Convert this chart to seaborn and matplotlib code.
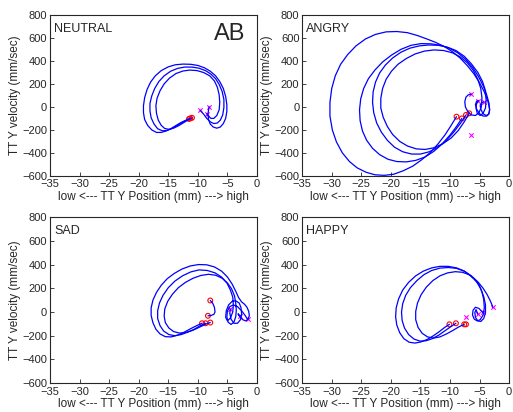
import matplotlib
matplotlib.use('Agg')
import matplotlib.pyplot as plt
import seaborn as sns
import pandas as pd

# ---- data ----
panel_names = ['NEUTRAL', 'ANGRY', 'SAD', 'HAPPY']
x_ticks = [-35, -30, -25, -20, -15, -10, -5, 0]
y_ticks = [-600, -400, -200, 0, 200, 400, 600, 800]

# NEUTRAL
neu_x1 = [-11.5, -12.2, -13.0, -13.8, -14.6, -15.4, -16.2, -17.0, -17.8, -18.5, -19.0, -19.2, -19.2, -19.0, -18.6, -18.0, -17.2, -16.2, -15.0, -13.8, -12.5, -11.2, -10.0, -8.9, -7.9, -7.0, -6.3, -5.7, -5.3, -5.1, -5.1, -5.3, -5.7, -6.2, -6.8, -7.4, -7.9, -8.2, -8.3, -8.1]
neu_y1 = [-105, -120, -140, -165, -190, -210, -222, -222, -200, -160, -110, -50, 10, 80, 150, 215, 270, 315, 348, 366, 372, 370, 360, 340, 310, 270, 220, 160, 90, 20, -40, -100, -145, -175, -185, -175, -150, -110, -60, 0]
neu_x2 = [-11.3, -12.0, -12.8, -13.6, -14.4, -15.2, -16.0, -16.8, -17.4, -17.9, -18.1, -18.1, -17.8, -17.3, -16.6, -15.7, -14.6, -13.4, -12.2, -11.0, -9.8, -8.7, -7.8, -7.0, -6.4, -5.9, -5.6, -5.6, -5.8, -6.2, -6.7, -7.3, -7.9, -8.5, -9.0, -9.6]
neu_y2 = [-100, -118, -140, -165, -188, -205, -208, -190, -150, -95, -35, 30, 95, 160, 220, 270, 310, 335, 346, 346, 336, 315, 285, 245, 195, 135, 65, -5, -70, -115, -140, -145, -130, -100, -65, -30]
neu_x3 = [-11.0, -11.7, -12.5, -13.3, -14.1, -14.9, -15.6, -16.2, -16.7, -17.0, -17.1, -16.9, -16.4, -15.7, -14.8, -13.7, -12.5, -11.3, -10.1, -9.0, -8.0, -7.2, -6.7, -6.4, -6.3, -6.4, -6.8, -7.3, -7.8, -8.2, -8.5]
neu_y3 = [-95, -115, -140, -165, -185, -195, -188, -160, -115, -55, 10, 75, 140, 200, 250, 290, 312, 320, 315, 298, 270, 225, 170, 105, 40, -25, -75, -100, -100, -80, -60]
neu_start_x = [-11.5, -11.3, -11.0]
neu_start_y = [-105, -100, -95]
neu_end_x = [-8.1, -9.6, -8.5]
neu_end_y = [0, -30, -60]

# ANGRY
ang_x1 = [-8.9, -9.8, -10.8, -12.0, -13.3, -14.8, -16.3, -17.9, -19.5, -21.1, -22.7, -24.2, -25.7, -27.0, -28.2, -29.2, -29.9, -30.3, -30.3, -30.0, -29.4, -28.5, -27.3, -25.9, -24.3, -22.6, -20.8, -19.0, -17.2, -15.5, -13.9, -12.4, -11.0, -9.6, -8.3, -7.1, -6.0, -5.0, -4.2, -3.6, -3.3, -3.4, -3.8, -4.4, -5.0, -5.5, -5.7, -5.5, -5.2]
ang_y1 = [-85, -160, -240, -320, -395, -460, -515, -555, -585, -595, -590, -568, -530, -475, -400, -305, -200, -80, 40, 160, 270, 370, 455, 530, 590, 630, 652, 655, 645, 620, 590, 560, 525, 480, 425, 360, 290, 210, 130, 50, -20, -60, -80, -80, -60, -20, 20, 50, 54]
ang_x2 = [-8.0, -8.9, -10.0, -11.3, -12.7, -14.2, -15.8, -17.4, -19.0, -20.5, -21.9, -23.1, -24.1, -24.8, -25.2, -25.3, -25.1, -24.6, -23.8, -22.7, -21.4, -19.9, -18.3, -16.6, -14.9, -13.2, -11.6, -10.1, -8.7, -7.4, -6.2, -5.2, -4.4, -3.8, -3.4, -3.3, -3.5, -3.9, -4.4, -4.8, -4.9, -4.6, -4.3]
ang_y2 = [-100, -170, -245, -320, -385, -435, -465, -478, -475, -455, -415, -360, -290, -210, -120, -25, 70, 160, 245, 320, 390, 450, 500, 535, 550, 548, 535, 510, 470, 415, 345, 265, 185, 105, 30, -30, -65, -75, -60, -20, 15, 35, 45]
ang_x3 = [-7.3, -8.2, -9.3, -10.6, -12.0, -13.5, -15.0, -16.5, -18.0, -19.4, -20.6, -21.6, -22.4, -22.9, -23.1, -23.0, -22.6, -21.9, -20.9, -19.7, -18.3, -16.8, -15.2, -13.6, -12.0, -10.5, -9.0, -7.6, -6.4, -5.3, -4.5, -4.0, -3.9, -4.0, -4.4, -4.9, -5.4, -5.6, -5.5, -5.2]
ang_y3 = [-70, -140, -215, -290, -350, -390, -410, -410, -390, -350, -290, -220, -140, -50, 40, 130, 215, 295, 365, 425, 475, 510, 530, 538, 535, 520, 490, 440, 375, 300, 220, 140, 60, -10, -55, -75, -55, -10, 30, 54]
ang_x4 = [-6.75, -7.6, -8.6, -9.8, -11.2, -12.7, -14.2, -15.7, -17.2, -18.5, -19.7, -20.6, -21.3, -21.7, -21.7, -21.4, -20.8, -19.9, -18.8, -17.4, -15.9, -14.3, -12.7, -11.1, -9.6, -8.3, -7.1, -6.1, -5.3, -4.8, -4.6, -4.7, -5.1, -5.7, -6.4, -7.0, -7.4, -7.5, -7.3, -6.9, -6.4]
ang_y4 = [-56, -130, -205, -270, -320, -355, -370, -365, -340, -300, -240, -170, -90, -10, 75, 160, 240, 310, 370, 420, 460, 485, 495, 490, 470, 435, 385, 320, 240, 160, 80, 0, -50, -75, -70, -40, 0, 45, 85, 105, 111]
ang_start_x = [-8.9, -8.0, -7.3, -6.75]
ang_start_y = [-85, -100, -70, -56]
ang_end_x = [-5.2, -4.3, -6.4, -6.5]
ang_end_y = [54, 45, 111, -244]

# SAD
sad_x1 = [-9.3, -10.2, -11.2, -12.3, -13.4, -14.5, -15.5, -16.4, -17.1, -17.6, -17.9, -17.9, -17.6, -17.0, -16.2, -15.2, -14.0, -12.7, -11.3, -9.9, -8.5, -7.2, -6.0, -5.0, -4.2, -3.6, -3.1, -2.6, -2.1, -1.7, -1.4, -1.3, -1.5, -1.9, -2.4, -2.9, -3.2, -3.1, -2.8]
sad_y1 = [-95, -115, -140, -170, -195, -210, -208, -185, -145, -90, -30, 35, 100, 165, 225, 280, 325, 362, 388, 400, 398, 380, 345, 295, 235, 175, 120, 85, 65, 40, 5, -30, -60, -75, -65, -40, -15, -25, -32]
sad_x2 = [-8.7, -9.6, -10.6, -11.7, -12.8, -13.9, -14.9, -15.8, -16.4, -16.8, -16.8, -16.5, -15.9, -15.0, -13.9, -12.6, -11.2, -9.8, -8.4, -7.1, -6.0, -5.1, -4.5, -4.1, -4.0, -4.1, -4.5, -5.0, -5.3, -5.2, -4.8, -4.2, -3.6, -3.0, -2.7, -2.6, -2.8, -3.3, -3.9, -4.4, -4.6, -4.5]
sad_y2 = [-95, -115, -145, -170, -190, -200, -190, -160, -115, -55, 10, 75, 140, 205, 260, 305, 338, 355, 350, 330, 295, 245, 185, 125, 60, 0, -50, -75, -45, 10, 60, 90, 95, 75, 35, -15, -65, -95, -95, -60, -10, 25]
sad_x3 = [-7.9, -8.8, -9.8, -10.9, -12.0, -13.1, -14.1, -14.9, -15.5, -15.7, -15.6, -15.1, -14.3, -13.3, -12.1, -10.8, -9.5, -8.2, -7.0, -5.9, -5.0, -4.3, -3.8, -3.6, -3.5, -3.6, -3.9, -4.4, -4.9, -5.1, -5.0, -4.6, -4.0, -3.3, -2.6, -2.0, -1.6]
sad_y3 = [-89, -105, -130, -155, -172, -178, -165, -135, -90, -35, 25, 90, 150, 205, 250, 285, 308, 318, 310, 285, 245, 195, 135, 75, 15, -40, -85, -105, -85, -40, 10, 45, 60, 45, 10, -30, -61]
sad_x4 = [-7.9, -7.5, -7.2, -7.1, -7.3, -7.8, -8.3]
sad_y4 = [97, 75, 40, 0, -20, -30, -32]
sad_start_x = [-9.3, -8.7, -7.9, -7.9, -8.3]
sad_start_y = [-95, -95, -89, 97, -32]
sad_end_x = [-2.8, -4.5, -1.6]
sad_end_y = [-32, 25, -61]

# HAPPY
hap_x1 = [-10.1, -10.9, -11.8, -12.8, -13.8, -14.9, -15.9, -16.9, -17.8, -18.5, -19.0, -19.2, -19.1, -18.7, -18.0, -17.0, -15.8, -14.5, -13.1, -11.7, -10.3, -8.9, -7.6, -6.4, -5.3, -4.4, -3.7, -3.2, -2.9, -2.8]
hap_y1 = [-104, -130, -165, -200, -230, -252, -262, -255, -225, -175, -110, -40, 35, 110, 185, 250, 305, 345, 372, 385, 385, 372, 345, 305, 255, 200, 145, 95, 60, 40]
hap_x2 = [-9.0, -9.9, -10.9, -11.9, -13.0, -14.1, -15.1, -16.1, -17.0, -17.7, -18.1, -18.2, -18.0, -17.5, -16.7, -15.6, -14.4, -13.1, -11.7, -10.3, -8.9, -7.6, -6.5, -5.5, -4.8, -4.3, -4.0, -4.0, -4.3, -4.8, -5.3, -5.7, -5.8, -5.6, -5.3]
hap_y2 = [-95, -125, -160, -195, -225, -243, -245, -228, -190, -135, -70, 0, 70, 140, 205, 265, 315, 350, 370, 375, 368, 345, 305, 255, 195, 130, 60, -5, -55, -80, -75, -45, -5, 20, -18]
hap_x3 = [-7.6, -8.5, -9.5, -10.6, -11.7, -12.8, -13.8, -14.7, -15.4, -15.8, -15.8, -15.5, -14.9, -14.0, -12.9, -11.7, -10.4, -9.1, -7.9, -6.8, -5.9, -5.1, -4.6, -4.3, -4.2, -4.4, -4.9, -5.4, -5.9, -6.2, -6.1, -5.7, -5.1, -4.5]
hap_y3 = [-104, -125, -155, -185, -210, -220, -210, -180, -130, -65, 5, 75, 145, 210, 265, 305, 330, 340, 335, 315, 280, 230, 170, 105, 35, -25, -65, -75, -60, -25, 15, 40, 30, -3]
hap_start_x = [-10.1, -9.0, -7.6, -7.3]
hap_start_y = [-104, -95, -104, -104]
hap_end_x = [-2.8, -5.3, -4.5, -7.3]
hap_end_y = [40, -18, -3, -38]

panels = [
    ([(neu_x1, neu_y1), (neu_x2, neu_y2), (neu_x3, neu_y3)], neu_start_x, neu_start_y, neu_end_x, neu_end_y),
    ([(ang_x1, ang_y1), (ang_x2, ang_y2), (ang_x3, ang_y3), (ang_x4, ang_y4)], ang_start_x, ang_start_y, ang_end_x, ang_end_y),
    ([(sad_x1, sad_y1), (sad_x2, sad_y2), (sad_x3, sad_y3), (sad_x4, sad_y4)], sad_start_x, sad_start_y, sad_end_x, sad_end_y),
    ([(hap_x1, hap_y1), (hap_x2, hap_y2), (hap_x3, hap_y3)], hap_start_x, hap_start_y, hap_end_x, hap_end_y),
]

sns.set_style('ticks')
plt.rcParams['font.family'] = ['Liberation Sans', 'DejaVu Sans']
plt.rcParams['xtick.direction'] = 'in'
plt.rcParams['ytick.direction'] = 'in'

fig = plt.figure(figsize=(5.13, 4.12), dpi=100)
# axes positions (left, bottom, width, height)
positions = [
    [0.0975, 0.573, 0.4035, 0.391],
    [0.589, 0.573, 0.4035, 0.391],
    [0.0975, 0.070, 0.4035, 0.403],
    [0.589, 0.070, 0.4035, 0.403],
]

for i, (loops, sx, sy, ex, ey) in enumerate(panels):
    ax = fig.add_axes(positions[i])
    for lx, ly in loops:
        df = pd.DataFrame({'pos': lx, 'vel': ly})
        sns.lineplot(data=df, x='pos', y='vel', sort=False, estimator=None,
                     color='#0000ff', lw=0.9, ax=ax)
    sns.scatterplot(x=sx, y=sy, marker='o', s=12, facecolor='none',
                    edgecolor='red', linewidth=0.8, ax=ax)
    sns.scatterplot(x=ex, y=ey, marker='x', s=10, color='magenta',
                    linewidth=0.8, ax=ax)
    ax.set_xlim(-35, 0)
    ax.set_ylim(-600, 800)
    ax.set_xticks(x_ticks)
    ax.set_yticks(y_ticks)
    ax.tick_params(axis='x', labelsize=8, length=3, width=0.6, pad=2.5)
    ax.tick_params(axis='y', labelsize=8, length=3, width=0.6, pad=2)
    for sp in ax.spines.values():
        sp.set_linewidth(0.8)
    ax.set_xlabel('low <--- TT Y Position (mm) ---> high', fontsize=8.5, labelpad=1)
    ax.set_ylabel('TT Y velocity (mm/sec)', fontsize=8.5, labelpad=1)
    ax.text(0.02, 0.95, panel_names[i], transform=ax.transAxes, fontsize=9,
            va='top', ha='left')
    if i == 0:
        ax.text(0.87, 0.88, 'AB', transform=ax.transAxes, fontsize=17,
                va='center', ha='center')

fig.savefig('out.png', dpi=100)
